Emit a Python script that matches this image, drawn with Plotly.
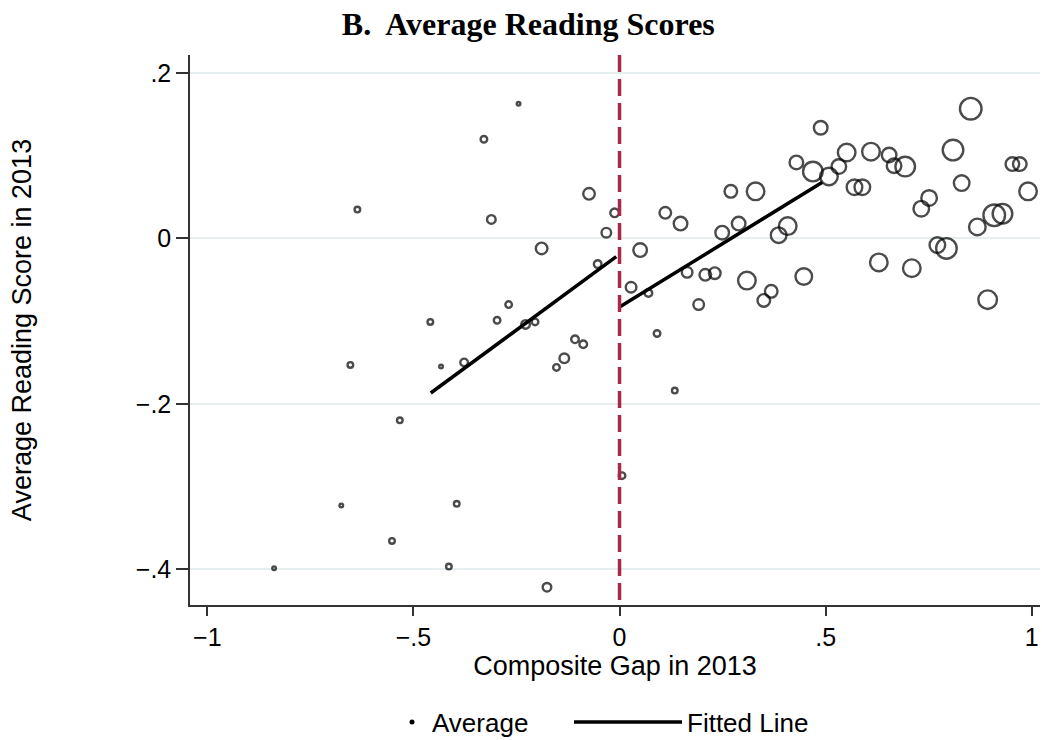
import numpy as np
import plotly.graph_objects as go

# ---- data ----
gap_left = [-0.245, -0.329, -0.636, -0.311, -0.074, -0.012, -0.032, -0.189, -0.053, -0.269,
            -0.297, -0.459, -0.228, -0.205, -0.108, -0.088, -0.134, -0.153, -0.653, -0.433,
            -0.377, -0.533, 0.006, -0.675, -0.395, -0.552, -0.838, -0.414, -0.176]
score_left = [0.163, 0.120, 0.035, 0.023, 0.054, 0.031, 0.007, -0.012, -0.031, -0.080,
              -0.099, -0.101, -0.104, -0.101, -0.122, -0.128, -0.145, -0.156, -0.153, -0.155,
              -0.150, -0.220, -0.287, -0.323, -0.321, -0.366, -0.399, -0.397, -0.422]
weight_left = [6, 9, 8, 11, 14, 11, 12, 14, 10, 9,
               9, 8, 11, 9, 10, 10, 12, 9, 8, 6,
               10, 8, 9, 6, 8, 8, 6, 8, 11]

gap_right = [0.852, 0.488, 0.809, 0.551, 0.610, 0.654, 0.666, 0.693, 0.532, 0.429,
             0.469, 0.508, 0.570, 0.589, 0.953, 0.971, 0.830, 0.991, 0.270, 0.330,
             0.751, 0.732, 0.929, 0.909, 0.111, 0.148, 0.289, 0.408, 0.386, 0.249,
             0.868, 0.050, 0.771, 0.793, 0.629, 0.709, 0.164, 0.208, 0.231, 0.447,
             0.309, 0.028, 0.070, 0.368, 0.350, 0.192, 0.893, 0.091, 0.134]
score_right = [0.157, 0.134, 0.107, 0.104, 0.105, 0.101, 0.088, 0.087, 0.087, 0.092,
               0.081, 0.075, 0.062, 0.062, 0.090, 0.090, 0.067, 0.057, 0.057, 0.057,
               0.049, 0.036, 0.030, 0.028, 0.031, 0.018, 0.018, 0.015, 0.004, 0.007,
               0.014, -0.014, -0.008, -0.012, -0.029, -0.036, -0.041, -0.044, -0.042, -0.046,
               -0.051, -0.059, -0.066, -0.064, -0.075, -0.080, -0.074, -0.115, -0.184]
weight_right = [24, 16, 23, 20, 20, 17, 17, 22, 17, 16,
                22, 20, 18, 18, 16, 16, 18, 20, 15, 20,
                18, 18, 22, 24, 14, 16, 16, 20, 18, 16,
                19, 16, 18, 23, 20, 20, 13, 14, 14, 19,
                20, 13, 10, 15, 15, 13, 21, 9, 8]

fit_left_x = [-0.458, -0.008]
fit_left_y = [-0.187, -0.022]
fit_right_x = [0.0, 0.492]
fit_right_y = [-0.083, 0.068]

cutoff = 0.0

x_ticks = [-1, -0.5, 0, 0.5, 1]
x_ticktext = ["\u22121", "\u2212.5", "0", ".5", "1"]
y_ticks = [-0.4, -0.2, 0, 0.2]
y_ticktext = ["\u2212.4", "\u2212.2", "0", ".2"]

# ---- figure ----
SANS = "Liberation Sans, Arial, sans-serif"
LW = 2.4

gap_all = gap_left + gap_right
score_all = score_left + score_right
weight_all = weight_left + weight_right

fig = go.Figure()
fig.add_trace(go.Scatter(
    x=gap_all, y=score_all, mode="markers", showlegend=False,
    marker=dict(symbol="circle", size=(np.array(weight_all) - LW).tolist(),
                color="rgba(0,0,0,0)", line=dict(width=LW, color="black")),
))
# legend-only entry for the markers
fig.add_trace(go.Scatter(
    x=[None], y=[None], mode="markers", name="Average", legend="legend",
    marker=dict(symbol="circle", size=5, color="black"),
))
fig.add_trace(go.Scatter(
    x=fit_left_x, y=fit_left_y, mode="lines", name="Fitted Line", legend="legend2",
    line=dict(color="black", width=3.5), legendgroup="fit",
))
fig.add_trace(go.Scatter(
    x=fit_right_x, y=fit_right_y, mode="lines", name="Fitted Line", showlegend=False,
    line=dict(color="black", width=3.5), legendgroup="fit", legend="legend2",
))

fig.add_shape(type="line", xref="x", yref="paper", x0=cutoff, x1=cutoff, y0=1, y1=0,
              line=dict(color="#a52a4c", width=3.5, dash="17px,7px"), layer="above")

legend_font = dict(size=26, family=SANS, color="black")
fig.update_layout(
    width=1042, height=740,
    paper_bgcolor="white", plot_bgcolor="white",
    margin=dict(l=190, r=2, t=55, b=135, autoexpand=False),
    title=dict(text="B.\u00a0 Average Reading Scores", x=0.507, xanchor="center",
               y=1 - 24 / 740, yanchor="middle",
               font=dict(family="Liberation Serif, Times New Roman, serif", size=32,
                         color="black", weight="bold")),
    font=dict(family=SANS, color="black"),
    legend=dict(orientation="h", xref="container", x=392 / 1042, xanchor="left",
                yref="container", y=1 - 722 / 740, yanchor="middle",
                font=legend_font, bgcolor="rgba(0,0,0,0)", itemwidth=30),
    legend2=dict(orientation="h", xref="container", x=569 / 1042, xanchor="left",
                 yref="container", y=1 - 722 / 740, yanchor="middle",
                 font=legend_font, bgcolor="rgba(0,0,0,0)", itemwidth=108),
)

fig.update_xaxes(
    range=[-1.042, 1.02], tickvals=x_ticks, ticktext=x_ticktext,
    showgrid=False, zeroline=False, automargin=False,
    showline=True, linecolor="#333", linewidth=1.5,
    ticks="outside", ticklen=9, tickwidth=1.5, tickcolor="#333",
    tickfont=dict(size=25, family=SANS),
    title=dict(text="Composite Gap in 2013", font=dict(size=27, family=SANS), standoff=0),
)
fig.update_yaxes(
    range=[-0.4435, 0.222], tickvals=y_ticks, ticktext=y_ticktext,
    showgrid=True, gridcolor="#e6efef", gridwidth=2, zeroline=False, automargin=False,
    showline=True, linecolor="#333", linewidth=1.5,
    ticks="outside", ticklen=12, tickwidth=1.5, tickcolor="#333",
    tickfont=dict(size=25, family=SANS),
    title=dict(text="Average Reading Score in 2013", font=dict(size=27, family=SANS), standoff=96),
)

fig.write_html("out.html", config={"displayModeBar": False},
               post_script="document.body.style.margin='0px';document.body.style.overflow='hidden';")
